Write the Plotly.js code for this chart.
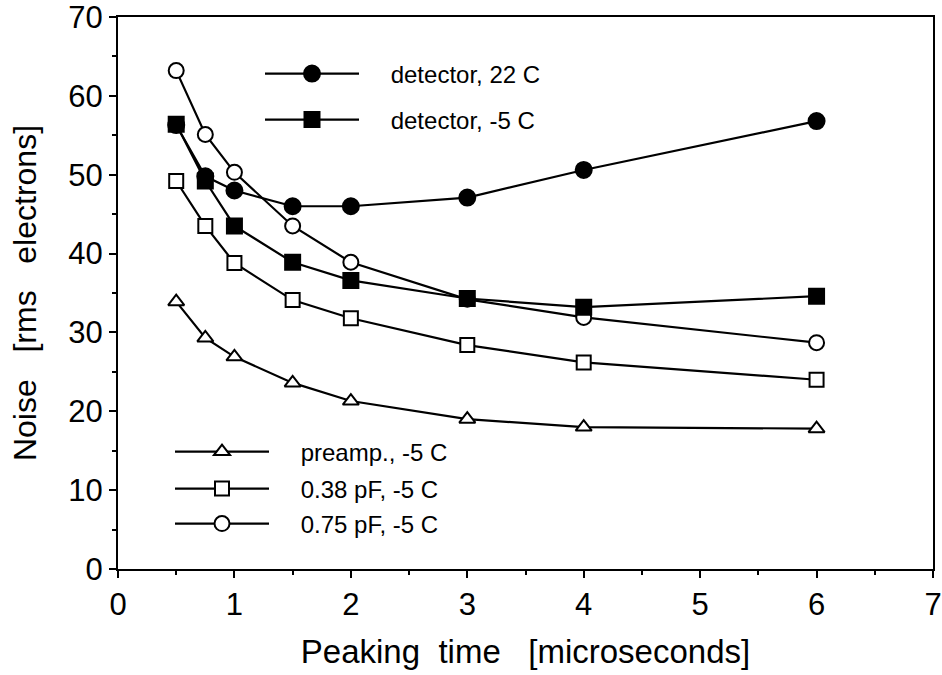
<!DOCTYPE html>
<html>
<head>
<meta charset="utf-8">
<script src="https://cdn.plot.ly/plotly-3.0.1.min.js"></script>
<style>html,body{margin:0;padding:0;background:#fff}#chart{width:942px;height:675px}</style>
</head>
<body>
<div id="chart"></div>
<script>
// Peaking times (microseconds)
const peakingTime = [0.5, 0.75, 1, 1.5, 2, 3, 4, 6];
// Noise values (rms electrons)
const detector22C   = [56.3, 49.8, 48.0, 46.0, 46.0, 47.1, 50.6, 56.8];
const detectorM5C   = [56.4, 49.2, 43.5, 38.9, 36.6, 34.3, 33.2, 34.6];
const pf075M5C      = [63.2, 55.1, 50.3, 43.5, 38.9, 34.2, 31.9, 28.7];
const pf038M5C      = [49.2, 43.5, 38.8, 34.1, 31.8, 28.4, 26.2, 24.0];
const preampM5C     = [33.9, 29.3, 26.9, 23.6, 21.3, 19.0, 18.0, 17.8];
const seriesNames = ['detector, 22 C', 'detector, -5 C', 'preamp., -5 C', '0.38 pF, -5 C', '0.75 pF, -5 C'];
const xTickLabels = ['0','1','2','3','4','5','6','7'];
const yTickLabels = ['0','10','20','30','40','50','60','70'];

const FONT = '"Liberation Sans", Arial, Helvetica, sans-serif';
const NB = '\u00A0';
const pad = NB + NB + NB + NB;

function tr(y, name, symbol, fill, size, legend) {
  return {
    x: peakingTime, y: y, name: pad + name, type: 'scatter', mode: 'lines+markers',
    line: {color: '#000', width: 2.2},
    marker: {symbol: symbol, size: size, color: fill, line: {color: '#000', width: 2}},
    legend: legend, cliponaxis: false
  };
}

const traces = [
  tr(preampM5C, seriesNames[2], 'triangle-up', '#fff', 14, 'legend3'),
  tr(pf038M5C, seriesNames[3], 'square', '#fff', 14, 'legend4'),
  tr(pf075M5C, seriesNames[4], 'circle', '#fff', 15, 'legend5'),
  tr(detector22C, seriesNames[0], 'circle', '#000', 16, 'legend'),
  tr(detectorM5C, seriesNames[1], 'square', '#000', 15, 'legend2')
];

function leg(xpx, ypx, w) {
  return {
    x: (xpx - 118) / 815, y: (569 - ypx) / 552, xanchor: 'left', yanchor: 'middle',
    bgcolor: 'rgba(0,0,0,0)', borderwidth: 0, itemwidth: w,
    font: {family: FONT, size: 24, color: '#000'}
  };
}

const axisCommon = {
  showline: true, linecolor: '#000', linewidth: 2, mirror: true,
  ticks: 'outside', tickcolor: '#000', tickwidth: 2, ticklen: 7,
  showgrid: false, zeroline: false, ticklabeloverflow: 'allow',
  tickfont: {family: FONT, size: 31, color: '#000'}
};

const layout = {
  width: 942, height: 675,
  margin: {l: 118, r: 9, t: 17, b: 106},
  paper_bgcolor: '#fff', plot_bgcolor: '#fff',
  showlegend: true,
  legend: leg(260, 74, 94),
  legend2: leg(260, 120, 94),
  legend3: leg(170, 452, 94),
  legend4: leg(170, 489, 94),
  legend5: leg(170, 524, 94),
  xaxis: Object.assign({}, axisCommon, {
    range: [0, 7], tickvals: [0,1,2,3,4,5,6,7], ticktext: xTickLabels,
    minor: {dtick: 0.5, tick0: 0, ticks: 'outside', ticklen: 4, tickwidth: 2, tickcolor: '#000'},
    title: {text: 'Peaking' + NB + NB + 'time' + NB + NB + NB + '[microseconds]',
            font: {family: FONT, size: 33, color: '#000'}, standoff: 19}
  }),
  yaxis: Object.assign({}, axisCommon, {
    range: [0, 70], tickvals: [0,10,20,30,40,50,60,70], ticktext: yTickLabels,
    minor: {dtick: 5, tick0: 0, ticks: 'outside', ticklen: 4, tickwidth: 2, tickcolor: '#000'},
    title: {text: 'Noise' + NB + NB + NB + '[rms' + NB + NB + NB + 'electrons]',
            font: {family: FONT, size: 32, color: '#000'}, standoff: 22}
  })
};

Plotly.newPlot('chart', traces, layout, {staticPlot: true, displayModeBar: false});
</script>
</body>
</html>
